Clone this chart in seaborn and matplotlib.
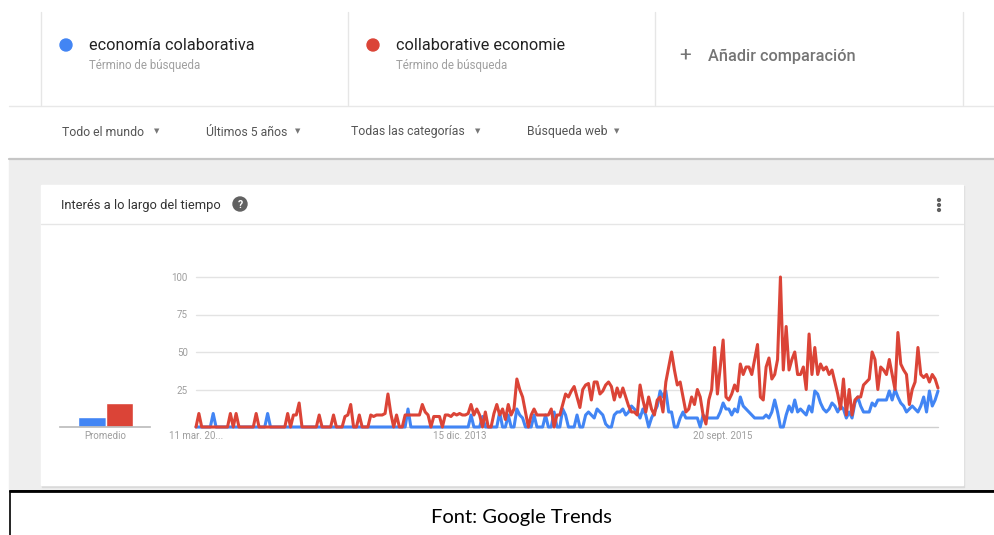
import numpy as np
import pandas as pd
import matplotlib
matplotlib.use("Agg")
import matplotlib.pyplot as plt
import seaborn as sns
from matplotlib.patches import Rectangle, Circle

terminos = ["economía colaborativa", "collaborative economie"]
colores = ["#4285f4", "#db4437"]
inicio = "2012-03-11"

economia_colaborativa = [
    0, 0, 0, 0, 0, 0, 9, 0, 0, 0,
    0, 0, 0, 0, 0, 0, 0, 0, 0, 0,
    0, 0, 0, 0, 0, 9, 0, 0, 0, 0,
    0, 0, 0, 0, 0, 0, 0, 0, 0, 0,
    0, 0, 0, 0, 0, 0, 0, 0, 0, 0,
    0, 0, 0, 0, 0, 0, 0, 0, 0, 0,
    0, 0, 0, 0, 0, 0, 0, 0, 0, 0,
    0, 0, 0, 0, 12, 0, 0, 0, 0, 0,
    0, 0, 0, 0, 0, 0, 0, 0, 0, 0,
    0, 0, 0, 0, 0, 0, 8, 0, 0, 0,
    7, 0, 0, 0, 0, 0, 10, 0, 0, 8,
    0, 0, 12, 8, 6, 0, 0, 0, 8, 0,
    0, 0, 8, 0, 0, 10, 0, 0, 12, 8,
    0, 0, 0, 8, 0, 0, 8, 10, 8, 6,
    12, 10, 8, 2, 0, 0, 8, 10, 10, 12,
    8, 10, 14, 12, 10, 6, 12, 8, 0, 6,
    10, 14, 24, 20, 24, 10, 10, 0, 0, 6,
    10, 6, 6, 6, 6, 6, 0, 8, 6, 6,
    6, 6, 6, 10, 16, 12, 12, 8, 12, 10,
    20, 14, 12, 10, 8, 6, 6, 6, 6, 8,
    6, 10, 18, 10, 0, 0, 8, 14, 10, 18,
    10, 12, 10, 8, 14, 10, 24, 22, 16, 12,
    10, 12, 16, 14, 10, 14, 12, 6, 10, 6,
    16, 20, 14, 10, 10, 10, 16, 14, 18, 18,
    18, 18, 24, 18, 25, 20, 16, 14, 10, 12,
    14, 12, 10, 14, 20, 10, 24, 14, 18, 24,
]

collaborative_economie = [
    0, 9, 0, 0, 0, 0, 0, 0, 0, 0,
    0, 0, 9, 0, 9, 0, 0, 0, 0, 0,
    0, 9, 0, 0, 0, 0, 0, 0, 0, 0,
    0, 0, 9, 0, 8, 8, 16, 0, 0, 0,
    0, 0, 0, 8, 0, 0, 0, 0, 8, 0,
    0, 0, 7, 8, 15, 0, 0, 8, 0, 0,
    0, 8, 7, 8, 8, 8, 9, 22, 9, 0,
    8, 0, 0, 8, 8, 8, 8, 8, 8, 15,
    10, 8, 0, 7, 7, 7, 0, 8, 8, 7,
    9, 8, 9, 8, 8, 9, 15, 8, 12, 8,
    0, 10, 0, 0, 9, 15, 8, 12, 5, 15,
    8, 12, 32, 25, 20, 10, 0, 8, 12, 8,
    8, 8, 8, 8, 12, 0, 8, 8, 15, 22,
    20, 24, 27, 20, 13, 25, 28, 29, 18, 30,
    30, 22, 24, 28, 30, 27, 18, 26, 20, 26,
    20, 14, 10, 10, 8, 28, 18, 10, 20, 12,
    8, 18, 20, 10, 30, 40, 50, 38, 28, 30,
    20, 10, 12, 20, 15, 25, 20, 8, 2, 18,
    25, 53, 22, 40, 58, 20, 18, 22, 28, 24,
    42, 35, 40, 40, 35, 45, 55, 20, 18, 40,
    46, 32, 35, 45, 100, 38, 67, 38, 45, 50,
    35, 35, 40, 25, 62, 35, 53, 35, 42, 38,
    40, 35, 38, 30, 22, 12, 32, 8, 25, 8,
    18, 20, 20, 28, 30, 32, 50, 45, 25, 40,
    38, 35, 45, 35, 25, 63, 42, 38, 35, 15,
    25, 30, 53, 35, 33, 35, 30, 35, 32, 26,
]

promedio = [7, 16]

y_ticks = [25, 50, 75, 100]
x_ticks_fechas = ["2012-03-11", "2013-12-15", "2015-09-20"]
x_ticks_texto = ["11 mar. 20...", "15 dic. 2013", "20 sept. 2015"]
filtros = ["Todo el mundo", "Últimos 5 años", "Todas las categorías", "Búsqueda web"]

fechas = pd.date_range(inicio, periods=len(collaborative_economie), freq="7D")
df = pd.concat([
    pd.DataFrame({"fecha": fechas, "valor": economia_colaborativa, "termino": terminos[0]}),
    pd.DataFrame({"fecha": fechas, "valor": collaborative_economie, "termino": terminos[1]}),
])

# ---- figura ----
sns.set_theme(style="white")
plt.rcParams["font.family"] = ["Roboto", "DejaVu Sans"]

W, H = 995, 535
fig = plt.figure(figsize=(W / 100, H / 100), dpi=100)
fig.patch.set_facecolor("white")

# capa de fondo en píxeles
bg = fig.add_axes([0, 0, 1, 1])
bg.set_xlim(0, W)
bg.set_ylim(H, 0)
bg.axis("off")

bg.add_patch(Rectangle((9, 160), W - 9, 330, color="#eeeeee", zorder=0))
bg.add_patch(Rectangle((42, 186), 922, 301, color="#dadada", zorder=1))
bg.add_patch(Rectangle((41, 185), 922, 300, color="white", zorder=2))
bg.plot([41, 963], [224, 224], color="#e6e6e6", lw=1, zorder=3)
bg.plot([9, W], [106, 106], color="#e8e8e8", lw=1)
bg.plot([9, W], [158.5, 158.5], color="#c6c6c6", lw=1.6)
for xv in [41, 348, 655, 963]:
    bg.plot([xv, xv], [12, 105], color="#e6e6e6", lw=1)

# cabecera de términos
for cx, txt, col in [(66, terminos[0], colores[0]), (373, terminos[1], colores[1])]:
    bg.add_patch(Circle((cx, 45), 6, color=col))
    bg.text(cx + 23, 45, txt, fontsize=11.7, color="#222222", va="center", ha="left")
    bg.text(cx + 23, 65, "Término de búsqueda", fontsize=8.3, color="#a0a0a0",
            va="center", ha="left")
bg.text(685, 55, "+", fontsize=15, color="#757575", va="center", ha="center")
bg.text(708, 56, "Añadir comparación", fontsize=11.7, color="#757575",
        va="center", ha="left", fontweight="medium")

# barra de filtros
for fx, ax_, txt in zip([62, 206, 351, 527], [157, 298, 478, 617], filtros):
    bg.text(fx, 132, txt, fontsize=8.8, color="#555555", va="center", ha="left")
    bg.text(ax_, 132, "▼", fontsize=5, color="#777777", va="center", ha="center")

# tarjeta
bg.text(61, 205, "Interés a lo largo del tiempo", fontsize=9.3, color="#333333",
        va="center", ha="left", zorder=4)
bg.add_patch(Circle((240, 204), 7, color="#616161", zorder=4))
bg.text(240, 204.5, "?", fontsize=7.5, color="white", fontweight="bold",
        va="center", ha="center", zorder=5)
for dy in [-5, 0, 5]:
    bg.add_patch(Circle((939, 205 + dy), 1.4, color="#616161", zorder=4))

# pie
bg.add_patch(Rectangle((10, 491), 1000, 60, fc="white", ec="black", lw=1.2, zorder=3))
bg.plot([10, W], [491, 491], color="black", lw=2, zorder=4)
bg.text(521, 517, "Font: Google Trends", fontsize=14.5, color="black",
        family=["Lato", "DejaVu Sans"], va="center", ha="center", zorder=5)

# ---- gráfico de líneas ----
ax = fig.add_axes([196 / W, (H - 427) / H, (938 - 196) / W, 150 / H])
ax.set_facecolor("none")
for yv in y_ticks:
    ax.axhline(yv, color="#e3e3e3", lw=1, zorder=0)
ax.axhline(0, color="#cfcfcf", lw=1, zorder=0)
sns.lineplot(data=df, x="fecha", y="valor", hue="termino", palette=colores,
             linewidth=2.2, legend=False, ax=ax)
for ln in ax.lines:
    ln.set_clip_on(False)
ax.set_xlim(fechas[0], fechas[-1])
ax.set_ylim(0, 100)
ax.set_yticks(y_ticks)
ax.set_yticklabels([str(v) for v in y_ticks])
ax.set_xticks(pd.to_datetime(x_ticks_fechas))
ax.set_xticklabels(x_ticks_texto)
ax.tick_params(length=0, labelsize=7, labelcolor="#9e9e9e")
ax.tick_params(axis="y", pad=6)
ax.tick_params(axis="x", pad=3)
ax.set_xlabel("")
ax.set_ylabel("")
for s in ax.spines.values():
    s.set_visible(False)

# ---- promedio ----
ax2 = fig.add_axes([60 / W, (H - 427) / H, 90 / W, 150 / H])
ax2.set_facecolor("none")
sns.barplot(x=terminos, y=promedio, hue=terminos, palette=colores, width=1,
            legend=False, saturation=1, ax=ax2)
ax2.set_xlim(-1.155, 2.118)
ax2.set_ylim(0, 100)
ax2.set_yticks([])
ax2.set_xticks([0.5])
ax2.set_xticklabels(["Promedio"])
ax2.tick_params(length=0, labelsize=7, labelcolor="#9e9e9e", pad=3)
ax2.set_xlabel("")
ax2.set_ylabel("")
for k, s in ax2.spines.items():
    s.set_visible(k == "bottom")
ax2.spines["bottom"].set_color("#bdbdbd")

fig.savefig("out.png", dpi=100, facecolor="white")
